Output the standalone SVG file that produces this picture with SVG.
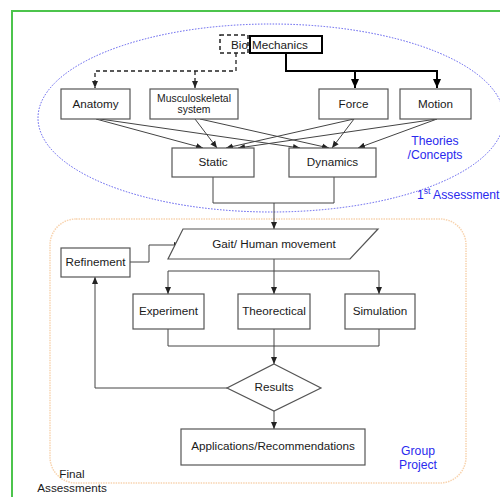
<svg xmlns="http://www.w3.org/2000/svg" width="500" height="497" viewBox="0 0 500 497">
<defs>
<marker id="ah" markerWidth="8" markerHeight="8" refX="7" refY="4" orient="auto" markerUnits="userSpaceOnUse"><path d="M0,1 L7,4 L0,7 Z" fill="#222"/></marker>
<marker id="ahb" markerWidth="10" markerHeight="10" refX="9" refY="5" orient="auto" markerUnits="userSpaceOnUse"><path d="M0,1 L9,5 L0,9 Z" fill="#000"/></marker>
<style>
.box{fill:#fff;stroke:#555;stroke-width:1.2}
.t{font-family:"Liberation Sans",Arial,sans-serif;font-size:11.7px;fill:#1a1a1a;text-anchor:middle}
.b{font-family:"Liberation Sans",Arial,sans-serif;font-size:12.2px;fill:#2a2aee;text-anchor:middle}
.ln{fill:none;stroke:#444;stroke-width:1}
</style>
</defs>
<rect x="12" y="11" width="500" height="500" fill="none" stroke="#4cc44c" stroke-width="2"/>
<ellipse cx="271" cy="118" rx="233" ry="94" fill="none" stroke="#5a5aee" stroke-width="1" stroke-dasharray="1.5,1.5"/>
<rect x="50" y="219" width="416" height="264" rx="26" ry="26" fill="none" stroke="#f8d4b0" stroke-width="1.5" stroke-dasharray="1.5,1"/>

<g id="connectors">
<path d="M236,53 V71 H95 V88" fill="none" stroke="#222" stroke-width="1.3" stroke-dasharray="4,3" marker-end="url(#ah)"/>
<path d="M195,71 V88" fill="none" stroke="#222" stroke-width="1.3" stroke-dasharray="4,3" marker-end="url(#ah)"/>
<path d="M286,53 V71 H437 V88" fill="none" stroke="#000" stroke-width="2" marker-end="url(#ahb)"/>
<path d="M355,71 V88" fill="none" stroke="#000" stroke-width="2" marker-end="url(#ahb)"/>
<path class="ln" d="M96,119 L203,148" marker-end="url(#ah)"/>
<path class="ln" d="M100,119 L300,148" marker-end="url(#ah)"/>
<path class="ln" d="M195,119 L217,148" marker-end="url(#ah)"/>
<path class="ln" d="M200,119 L329,148" marker-end="url(#ah)"/>
<path class="ln" d="M354,119 L226,148" marker-end="url(#ah)"/>
<path class="ln" d="M354,119 L332,148" marker-end="url(#ah)"/>
<path class="ln" d="M437,119 L238,148" marker-end="url(#ah)"/>
<path class="ln" d="M437,119 L358,148" marker-end="url(#ah)"/>
<path class="ln" d="M213,177 V203 H334 V177"/>
<path class="ln" d="M274,203 V229" marker-end="url(#ah)"/>
<path class="ln" d="M130,262 H149 V245 H181" marker-end="url(#ah)"/>
<path class="ln" d="M274,259 V294" marker-end="url(#ah)"/>
<path class="ln" d="M168,271 H379"/>
<path class="ln" d="M168,271 V294" marker-end="url(#ah)"/>
<path class="ln" d="M379,271 V294" marker-end="url(#ah)"/>
<path class="ln" d="M168,329 V346 H379 V329"/>
<path class="ln" d="M274,329 V364" marker-end="url(#ah)"/>
<path class="ln" d="M227,388 H95 V277" marker-end="url(#ah)"/>
<path class="ln" d="M274,411 V429" marker-end="url(#ah)"/>
</g>

<g id="biomechanics">
<rect x="220" y="35" width="28" height="18" fill="#fff" stroke="#222" stroke-width="1.5" stroke-dasharray="4,3"/>
<rect x="250" y="36" width="72" height="17" fill="#fff" stroke="#000" stroke-width="2"/>
<text class="t" x="231" y="49" style="text-anchor:start">Bio</text>
<text class="t" x="252" y="49" style="text-anchor:start">Mechanics</text>
</g>
<g id="anatomy"><rect class="box" x="61" y="89" width="69" height="30"/><text class="t" x="95.5" y="108">Anatomy</text></g>
<g id="musculoskeletal"><rect class="box" x="150" y="89" width="88" height="30"/><text class="t" x="194" y="102" style="font-size:10.4px">Musculoskeletal</text><text class="t" x="194" y="113" style="font-size:10.4px">system</text></g>
<g id="force"><rect class="box" x="319" y="89" width="69" height="30"/><text class="t" x="353.5" y="108">Force</text></g>
<g id="motion"><rect class="box" x="400" y="89" width="71" height="30"/><text class="t" x="435.5" y="108">Motion</text></g>
<g id="static"><rect class="box" x="172" y="148" width="82" height="29"/><text class="t" x="213" y="166">Static</text></g>
<g id="dynamics"><rect class="box" x="289" y="148" width="87" height="29"/><text class="t" x="332.5" y="166">Dynamics</text></g>
<g id="gait"><polygon class="box" points="183,229 378,229 350,259 168,259"/><text class="t" x="274" y="248">Gait/ Human movement</text></g>
<g id="refinement"><rect class="box" x="61" y="248" width="69" height="29"/><text class="t" x="95.5" y="266">Refinement</text></g>
<g id="experiment"><rect class="box" x="133" y="294" width="71" height="35"/><text class="t" x="168.5" y="315">Experiment</text></g>
<g id="theorectical"><rect class="box" x="238" y="294" width="72" height="35"/><text class="t" x="274" y="315">Theorectical</text></g>
<g id="simulation"><rect class="box" x="345" y="294" width="70" height="35"/><text class="t" x="380" y="315">Simulation</text></g>
<g id="results"><polygon class="box" points="274,364 321,388 274,411 227,388"/><text class="t" x="274" y="391">Results</text></g>
<g id="applications"><rect class="box" x="181" y="429" width="184" height="36"/><text class="t" x="273" y="450">Applications/Recommendations</text></g>

<g id="labels">
<text class="b" x="435" y="145">Theories</text>
<text class="b" x="435" y="159">/Concepts</text>
<text class="b" x="417" y="199" style="text-anchor:start">1<tspan dy="-5" font-size="8.5">st</tspan><tspan dy="5"> Assessment</tspan></text>
<text class="b" x="418" y="455">Group</text>
<text class="b" x="418" y="469">Project</text>
<text class="t" x="72" y="478">Final</text>
<text class="t" x="72" y="492">Assessments</text>
</g>
</svg>
